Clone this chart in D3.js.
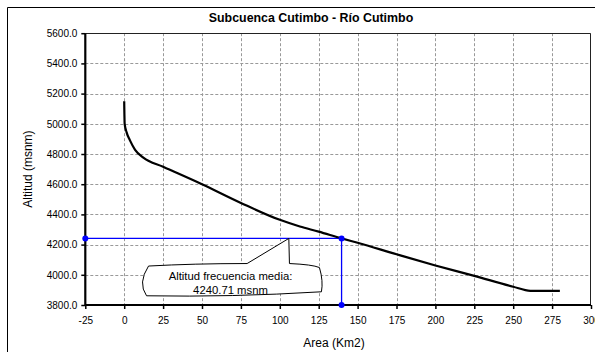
<!DOCTYPE html>
<html>
<head>
<meta charset="utf-8">
<script src="https://cdn.jsdelivr.net/npm/d3@7"></script>
<style>
  html, body { margin: 0; padding: 0; background: #fff; }
  svg { display: block; font-family: "Liberation Sans", Arial, sans-serif; }
</style>
</head>
<body>
<svg id="chart" width="595" height="352"></svg>
<script>
// Hypsometric curve: cumulative area (km²) above each altitude (msnm)
const areaKm2 = [0, 0.3, 1.5, 3.7, 7, 12.3, 25, 50, 75, 100, 112.9, 125, 139.7, 150, 175, 200, 225, 250, 261, 280];
const altitud = [5150, 5000, 4945, 4890, 4828, 4776, 4716, 4600, 4476, 4364, 4320, 4286, 4241, 4212, 4136, 4062, 3993, 3921, 3894, 3893];

// Mean altitude marker
const altMedia = 4240.71;
const areaMedia = 139.7;

// Axis tick values
const xTicks = [-25, 0, 25, 50, 75, 100, 125, 150, 175, 200, 225, 250, 275, 300];
const yTicks = [3800, 4000, 4200, 4400, 4600, 4800, 5000, 5200, 5400, 5600];

const titulo = "Subcuenca Cutimbo - Río Cutimbo";
const tituloX = "Area (Km2)";
const tituloY = "Altitud (msnm)";
const etiqueta = ["Altitud frecuencia media:", "4240.71 msnm"];

const svg = d3.select("#chart");
const W = 595, H = 352;
const plot = { left: 85.3, right: 591, top: 33.2, bottom: 305 };

const x = d3.scaleLinear().domain([-25, 300]).range([plot.left, plot.right]);
const y = d3.scaleLinear().domain([3800, 5600]).range([plot.bottom, plot.top]);

// Outer chart frame (left and top edges are visible)
svg.append("path")
  .attr("d", `M7.5,${H} V7.5 H${W}`)
  .attr("fill", "none").attr("stroke", "#000").attr("stroke-width", 1);

// Title
svg.append("text")
  .attr("x", 311).attr("y", 22)
  .attr("text-anchor", "middle")
  .attr("font-size", 12.4).attr("font-weight", "bold")
  .text(titulo);

// Gridlines
const grid = svg.append("g").attr("stroke", "#999").attr("stroke-dasharray", "3,2").attr("stroke-width", 1);
grid.selectAll("line.v").data(xTicks.filter(d => d > -25 && d < 300)).join("line")
  .attr("x1", d => Math.round(x(d)) + 0.5).attr("x2", d => Math.round(x(d)) + 0.5)
  .attr("y1", plot.top).attr("y2", plot.bottom);
grid.selectAll("line.h").data(yTicks.filter(d => d > 3800)).join("line")
  .attr("y1", d => Math.round(y(d)) + 0.5).attr("y2", d => Math.round(y(d)) + 0.5)
  .attr("x1", plot.left).attr("x2", plot.right);

// Plot border (top and right)
svg.append("path")
  .attr("d", `M${plot.left},${Math.round(plot.top) + 0.5} H${Math.round(plot.right) - 0.5} V${plot.bottom}`)
  .attr("fill", "none").attr("stroke", "#222").attr("stroke-width", 1);

// Axes
const xAxis = svg.append("g")
  .attr("transform", `translate(0,${plot.bottom})`)
  .call(d3.axisBottom(x).tickValues(xTicks).tickSize(4).tickPadding(8).tickFormat(d => String(d)));
const yAxis = svg.append("g")
  .attr("transform", `translate(${plot.left},0)`)
  .call(d3.axisLeft(y).tickValues(yTicks).tickSize(4).tickPadding(4).tickFormat(d => d.toFixed(1)));
[xAxis, yAxis].forEach(a => {
  a.select(".domain").attr("stroke", "#000").attr("stroke-width", 2.2);
  a.selectAll(".tick line").attr("stroke", "#000").attr("stroke-width", 1.5);
  a.selectAll(".tick text").attr("font-size", 10).attr("fill", "#000")
    .attr("font-family", "\"Liberation Sans\", Arial, sans-serif");
});
xAxis.select(".domain").attr("d", `M${plot.left},0H${plot.right}`);
yAxis.select(".domain").attr("d", `M0,${plot.top}V${plot.bottom}`);

// Axis titles
svg.append("text")
  .attr("x", 334).attr("y", 347)
  .attr("text-anchor", "middle").attr("font-size", 12)
  .text(tituloX);
svg.append("text")
  .attr("transform", `translate(32,${(plot.top + plot.bottom) / 2}) rotate(-90)`)
  .attr("text-anchor", "middle").attr("font-size", 12)
  .text(tituloY);

// Mean altitude guide lines
const guia = [[-25, altMedia], [areaMedia, altMedia], [areaMedia, 3800]];
svg.append("path")
  .datum(guia)
  .attr("d", d3.line().x(d => x(d[0])).y(d => y(d[1])))
  .attr("fill", "none").attr("stroke", "#0000ff").attr("stroke-width", 1.3);

// Hypsometric curve
const datos = areaKm2.map((a, i) => [a, altitud[i]]);
svg.append("path")
  .datum(datos)
  .attr("d", d3.line().x(d => x(d[0])).y(d => y(d[1])).curve(d3.curveMonotoneX))
  .attr("fill", "none").attr("stroke", "#000").attr("stroke-width", 2.2)
  .attr("stroke-linejoin", "round");

// Guide markers
svg.selectAll("circle.guia").data(guia).join("circle")
  .attr("cx", d => x(d[0])).attr("cy", d => y(d[1])).attr("r", 3)
  .attr("fill", "#0000ff");

// Callout box with pointer toward the mean altitude line
const tip = [x(105.8), y(altMedia)];
const bx0 = x(10.5), bx1 = x(127.4);
const by0 = y(4058), by1 = y(3861);
const pL = x(79), pR = x(106.2);
const calloutPath = [
  `M${bx0 + 8},${by0}`,
  `Q${(bx0 + pL) / 2},${by0 - 2.5} ${pL},${by0 - 2.5}`,
  `L${tip[0]},${tip[1]}`,
  `L${pR},${by0 - 2.5}`,
  `Q${bx1 - 10},${by0 - 1.5} ${bx1 - 3},${by0 + 1.5}`,
  `Q${bx1 + 1},${(by0 + by1) / 2} ${bx1 - 1},${by1 - 4}`,
  `Q${(bx0 + bx1) / 2},${by1 + 1.5} ${bx0 + 6},${by1}`,
  `Q${bx0 - 3},${(by0 + by1) / 2 + 2} ${bx0 + 8},${by0}`,
  "Z"
].join(" ");
svg.append("path")
  .attr("d", calloutPath)
  .attr("fill", "#fff").attr("stroke", "#000").attr("stroke-width", 1);
svg.selectAll("text.etiqueta").data(etiqueta).join("text")
  .attr("class", "etiqueta")
  .attr("x", (bx0 + bx1) / 2 - 1)
  .attr("y", (d, i) => by0 + 13.5 + i * 14)
  .attr("text-anchor", "middle").attr("font-size", 11.3)
  .text(d => d);
</script>
</body>
</html>
